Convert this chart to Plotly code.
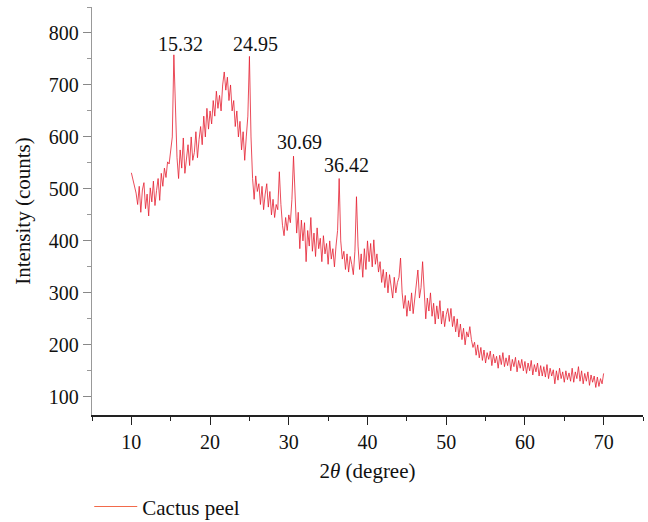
import plotly.graph_objects as go

# 2-theta sampling: start and step of the scan (degrees)
theta_start = 10.0
theta_step = 0.2

# Intensity (counts), 10.0 .. 70.0 in 0.2 degree steps
intensity = [
    531, 518, 505, 492, 470, 505, 455, 498, 512, 462,
    490, 448, 502, 475, 515, 468, 497, 520, 478, 530,
    505, 540, 522, 552, 548, 570, 600, 758, 640, 560,
    520, 575, 540, 598, 530, 560, 585, 545, 600, 555,
    570, 610, 560, 595, 620, 585, 640, 600, 655, 615,
    650, 625, 670, 640, 688, 655, 680, 650, 700, 725,
    690, 715, 670, 700, 650, 670, 620, 650, 600, 630,
    575, 610, 555, 600, 640, 755, 600, 520, 480, 525,
    495, 510, 470, 505, 460, 490, 510, 465, 495, 450,
    480, 445, 470, 460, 533, 470, 430, 410, 445, 420,
    450, 435, 480, 563, 470, 415, 455, 385, 440, 400,
    435, 360, 420, 390, 445, 380, 415, 370, 425, 385,
    405, 360, 410, 375, 395, 355, 400, 365, 385, 350,
    390, 420, 520, 400, 365, 380, 345, 375, 340, 370,
    355, 335, 380, 485, 390, 345, 375, 330, 385, 345,
    400, 360, 395, 350, 402, 355, 375, 340, 360, 320,
    345, 310, 340, 300, 335, 315, 290, 330, 300, 320,
    330, 367, 300, 270, 295, 255, 285, 265, 300, 260,
    290, 320, 344, 290, 310, 360, 300, 250, 290, 265,
    300, 255, 280, 240, 275, 250, 285, 240, 265, 235,
    258, 270, 245, 270, 235, 255, 225, 250, 215, 240,
    210, 232, 200, 225, 215, 235, 210, 195, 205, 180,
    200, 175, 195, 170, 190, 165, 185, 172, 188, 160,
    182, 165, 178, 155, 180, 162, 185, 158, 175, 160,
    180, 150, 172, 158, 176, 148, 170, 155, 172, 150,
    168, 145, 165, 150, 170, 142, 162, 148, 165, 140,
    160, 140, 158, 138, 162, 135, 155, 140, 152, 125,
    150, 132, 155, 135, 148, 128, 150, 133, 146, 130,
    155, 128, 148, 135, 158, 130, 150, 125, 145, 130,
    148, 122, 142, 128, 140, 118, 138, 120, 135, 125,
    145,
]
two_theta = [round(theta_start + theta_step * i, 2) for i in range(len(intensity))]

peak_labels = ["15.32", "24.95", "30.69", "36.42"]
peak_label_x = [16.2, 25.75, 31.35, 37.3]
peak_label_y = [779, 779, 590, 546]

series_name = "Cactus peel"
x_ticks = [10, 20, 30, 40, 50, 60, 70]
y_ticks = [100, 200, 300, 400, 500, 600, 700, 800]

FONT = "Liberation Serif, Times New Roman, serif"
TXT = "#111"

fig = go.Figure()
fig.add_trace(go.Scatter(
    x=two_theta, y=intensity, mode="lines",
    line=dict(color="rgb(228,30,48)", width=0.8),
    showlegend=False, hoverinfo="skip",
))
fig.add_trace(go.Scatter(
    x=[None], y=[None], mode="lines", name=series_name,
    line=dict(color="#f26a4b", width=1.2),
    showlegend=True,
))

for t, ax, ay in zip(peak_labels, peak_label_x, peak_label_y):
    fig.add_annotation(x=ax, y=ay, text=t, showarrow=False,
                       font=dict(family=FONT, size=20, color=TXT),
                       xanchor="center", yanchor="middle")

fig.update_layout(
    width=648, height=522,
    margin=dict(l=92, r=5, t=7, b=107, autoexpand=False),
    paper_bgcolor="white", plot_bgcolor="white",
    font=dict(family=FONT, size=20, color=TXT),
    showlegend=True,
    legend=dict(x=-0.005, y=0.029, xanchor="left", yanchor="middle", yref="container",
                orientation="h", itemwidth=43,
                font=dict(family=FONT, size=21, color=TXT),
                bgcolor="rgba(0,0,0,0)"),
    xaxis=dict(
        range=[5, 75], tickvals=x_ticks, ticks="outside", ticklen=8, tickwidth=1.3,
        tickcolor="#222", showline=True, linecolor="#222", linewidth=1.5,
        showgrid=False, zeroline=False, automargin=False,
        tickfont=dict(family=FONT, size=20, color=TXT),
        minor=dict(dtick=5, ticks="outside", ticklen=4, tickcolor="#222", tickwidth=1),
        title=dict(text="2<i>θ</i> (degree)", font=dict(family=FONT, size=21, color=TXT), standoff=12),
    ),
    yaxis=dict(
        range=[65, 850], tickvals=y_ticks, ticks="outside", ticklen=8, tickwidth=1.2,
        tickcolor="#888", showline=True, linecolor="#999", linewidth=1.3,
        showgrid=False, zeroline=False, automargin=False,
        tickfont=dict(family=FONT, size=20, color=TXT),
        minor=dict(dtick=50, ticks="outside", ticklen=4, tickcolor="#999", tickwidth=1),
        title=dict(text="Intensity (counts)", font=dict(family=FONT, size=21, color=TXT), standoff=12),
    ),
)

fig.write_html("out.html")
